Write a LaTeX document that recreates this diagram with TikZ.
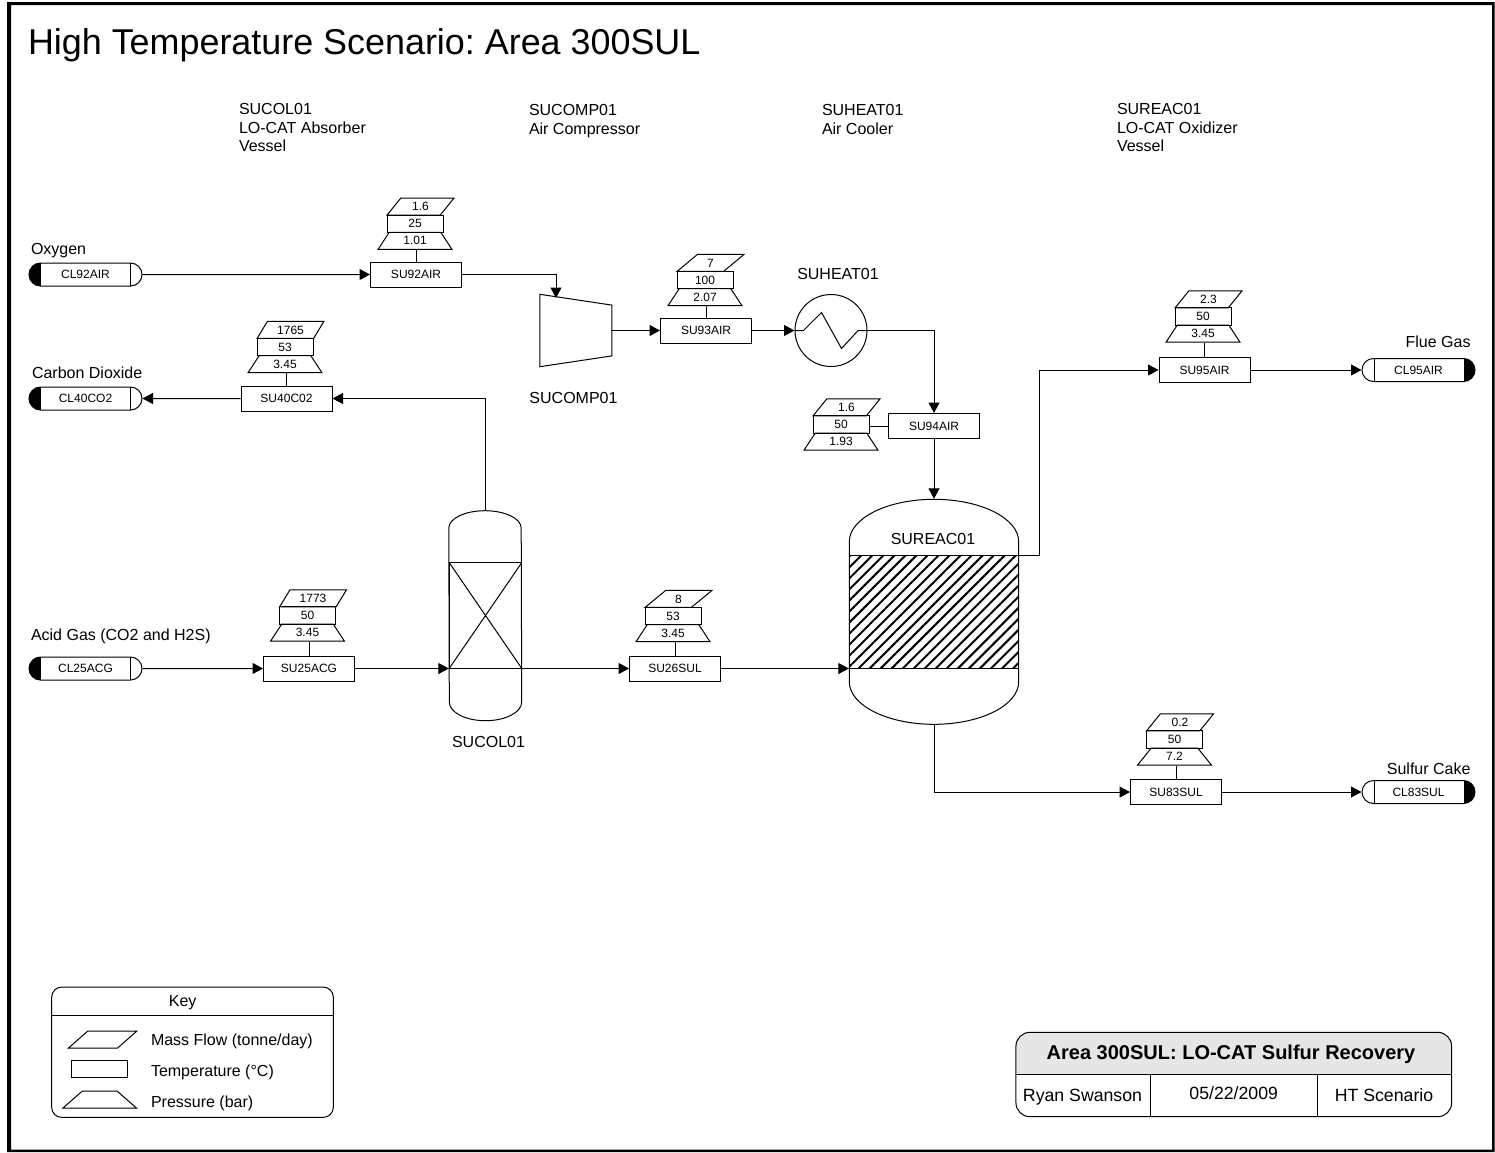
\documentclass[tikz,border=0pt]{standalone}
\usepackage{xcolor}
\usepackage{fontspec}
\setmainfont{Liberation Sans}
\usetikzlibrary{arrows.meta,patterns.meta,shapes.geometric,shapes.misc}
\definecolor{KeyGray}{HTML}{E6E6E6}
\frenchspacing
\newcommand{\SmallFont}{\fontsize{12}{14}\selectfont}
\newcommand{\LabelFont}{\fontsize{16}{18.5}\selectfont}
\newcommand{\FlowTag}[5]{%
    \node (#1Temp) [tempbox] at (#2) {#4};
    \node (#1Flow) [above of=#1Temp, node distance=17.1pt, xshift=5.5pt, flowbox] {#3};
    \node (#1Press) [below of=#1Temp, node distance=17.1pt, pressbox] {#5};
}

\begin{document}
\begin{tikzpicture}[x=1pt, y=-1pt, line width=1pt, >={Triangle[length=10.5pt,width=11pt]},
        streambox/.style={draw, font=\SmallFont, minimum width=91pt, minimum height=25pt, inner sep=0pt},
        tempbox/.style={draw, font=\SmallFont, minimum width=56pt, minimum height=17.2pt, inner sep=0pt},
        flowbox/.style={draw, font=\SmallFont, trapezium, trapezium stretches=true, trapezium left angle=57, trapezium right angle=123, minimum width=67pt, minimum height=17pt, inner sep=0.5pt},
        pressbox/.style={draw, font=\SmallFont, trapezium, trapezium stretches=true, trapezium left angle=61, trapezium right angle=61, minimum width=74pt, minimum height=17pt, inner sep=0.5pt},
        terminal/.style={draw, rounded rectangle, font=\SmallFont, minimum width=113pt, minimum height=23pt, inner sep=0pt},
        termleft/.style={terminal, path picture={
                \fill (path picture bounding box.south west) rectangle ++(11.5pt,23pt);
                \draw ([xshift=-12pt]path picture bounding box.south east) -- ([xshift=-12pt]path picture bounding box.north east);}},
        termright/.style={terminal, path picture={
                \fill (path picture bounding box.south east) rectangle ++(-11.5pt,23pt);
                \draw ([xshift=12pt]path picture bounding box.south west) -- ([xshift=12pt]path picture bounding box.north west);}},
        label/.style={font=\LabelFont, inner sep=0pt},
        header/.style={label, anchor=north west, align=left},
        shell/.style={inner sep=0pt}]
        \useasboundingbox (0,0) rectangle (1495,1152);
        \fill [even odd rule] (7,2) rectangle (1494.5,1152) (11,5) rectangle (1492,1149.5);

        \node (Title) [font=\fontsize{35.9}{40}\selectfont, anchor=west, inner sep=0pt] at (27.5,45) {High Temperature Scenario: Area 300SUL};
        \node (ColHeader) [header] at (238.5,103) {SUCOL01\\LO-CAT Absorber\\Vessel};
        \node (CompHeader) [header] at (528.5,104) {SUCOMP01\\Air Compressor};
        \node (HeatHeader) [header] at (821.5,104) {SUHEAT01\\Air Cooler};
        \node (ReacHeader) [header] at (1116.5,103) {SUREAC01\\LO-CAT Oxidizer\\Vessel};

        % feeds and products
        \node (CL92AIR) [termleft] at (85.5,274.5) {CL92AIR};
        \node (CL40CO2) [termleft] at (85.5,398.5) {CL40CO2};
        \node (CL25ACG) [termleft] at (85.5,668.5) {CL25ACG};
        \node (CL95AIR) [termright] at (1418.5,370) {CL95AIR};
        \node (CL83SUL) [termright] at (1418.5,792) {CL83SUL};
        \node (OxygenLabel) [label, anchor=west] at (30.5,251) {Oxygen};
        \node (CarbonLabel) [label, anchor=west] at (31.5,373) {Carbon Dioxide};
        \node (AcidLabel) [label, anchor=west] at (30.5,636) {Acid Gas (CO2 and H2S)};
        \node (FlueLabel) [label, anchor=east] at (1471,342) {Flue Gas};
        \node (SulfurLabel) [label, anchor=east] at (1471,769) {Sulfur Cake};

        % stream boxes
        \node (SU92AIR) [streambox] at (416,274.5) {SU92AIR};
        \node (SU40C02) [streambox] at (286.5,398.5) {SU40C02};
        \node (SU25ACG) [streambox] at (309,668.5) {SU25ACG};
        \node (SU26SUL) [streambox] at (675,668.5) {SU26SUL};
        \node (SU93AIR) [streambox] at (706,330.5) {SU93AIR};
        \node (SU94AIR) [streambox] at (934,426) {SU94AIR};
        \node (SU95AIR) [streambox] at (1204.5,370) {SU95AIR};
        \node (SU83SUL) [streambox] at (1176,792) {SU83SUL};
        \FlowTag{SU92AIR}{415,223.7}{1.6}{25}{1.01}
        \FlowTag{SU40C02}{285,347}{1765}{53}{3.45}
        \FlowTag{SU25ACG}{307.5,615.5}{1773}{50}{3.45}
        \FlowTag{SU26SUL}{673,616}{8}{53}{3.45}
        \FlowTag{SU93AIR}{705,280}{7}{100}{2.07}
        \FlowTag{SU94AIR}{841,424.5}{1.6}{50}{1.93}
        \FlowTag{SU95AIR}{1203,316.5}{2.3}{50}{3.45}
        \FlowTag{SU83SUL}{1174.5,739.5}{0.2}{50}{7.2}
        \draw (SU92AIR.north) -- (SU92AIR.north |- SU92AIRPress.south);
        \draw (SU40C02.north) -- (SU40C02.north |- SU40C02Press.south);
        \draw (SU25ACG.north) -- (SU25ACG.north |- SU25ACGPress.south);
        \draw (SU26SUL.north) -- (SU26SUL.north |- SU26SULPress.south);
        \draw (SU93AIR.north) -- (SU93AIR.north |- SU93AIRPress.south);
        \draw (SU94AIR.west) -- (SU94AIR.west -| SU94AIRTemp.east);
        \draw (SU95AIR.north) -- (SU95AIR.north |- SU95AIRPress.south);
        \draw (SU83SUL.north) -- (SU83SUL.north |- SU83SULPress.south);

        % compressor
        \node (SUCOMP01) [draw, trapezium, trapezium stretches=true, shape border rotate=270, trapezium angle=78, minimum width=72.4pt, minimum height=72pt, inner sep=0.5pt] at (575.8,330.5) {};
        \coordinate (CompIn) at (556,298);
        \node (CompLabel) [label] at (573.5,398) {SUCOMP01};

        % air cooler
        \node (SUHEAT01) [draw, circle, minimum size=72pt, inner sep=0pt] at (831,330.5) {};
        \draw (SUHEAT01.west) -- ++(9,0) -- ++(18,-18) -- ++(20,36) -- ++(16.6,-18) -- (SUHEAT01.east);
        \node (HeatLabel) [label] at (838,274) {SUHEAT01};

        % absorber
        \node (SUCOL01) [shell, minimum width=72.4pt, minimum height=210pt] at (485.5,615.7) {};
        \draw (SUCOL01.west |- 0,528) arc (180:360:36.2 and 17.3) -- (521.7,702) arc (0:180:36.2 and 18.7) -- cycle;
        \draw (449.3,562.7) rectangle (521.7,668.3);
        \draw (449.3,562.7) -- (521.7,668.3) (521.7,562.7) -- (449.3,668.3);
        \node (ColLabel) [label] at (488.5,742) {SUCOL01};

        % oxidizer
        \node (SUREAC01) [shell, minimum width=169.4pt, minimum height=225pt] at (934,611.8) {};
        \coordinate (ReacOut) at (1018.7,555.7);
        \draw (849.3,541.7) arc (180:360:84.7 and 42.4) -- (1018.7,681.7) arc (0:180:84.7 and 42.6) -- cycle;
        \draw [pattern={Lines[angle=45,distance=7.8pt,line width=2pt]}] (849.3,555.7) rectangle (1018.7,668.7);
        \node (ReacLabel) [label] at (933,538.5) {SUREAC01};

        % flows
        \draw [->] (CL92AIR) -- (SU92AIR);
        \draw [->] (SU92AIR) -| (CompIn);
        \draw [->] (SUCOMP01.east) -- (SU93AIR);
        \draw [->] (SU93AIR) -- (SUHEAT01);
        \draw [->] (SUHEAT01.east) -| (SU94AIR);
        \draw [->] (SU94AIR) -- (SUREAC01.north);
        \draw [->] (ReacOut) -- ++(21,0) |- (SU95AIR);
        \draw [->] (SU95AIR) -- (CL95AIR);
        \draw [->] (SUREAC01.south) |- (SU83SUL);
        \draw [->] (SU83SUL) -- (CL83SUL);
        \draw [->] (CL25ACG) -- (SU25ACG);
        \draw [->] (SU25ACG) -- (SU25ACG -| SUCOL01.west);
        \draw [->] (SU25ACG -| SUCOL01.east) -- (SU26SUL);
        \draw [->] (SU26SUL) -- (SU26SUL -| SUREAC01.west);
        \draw [->] (SUCOL01.north) |- (SU40C02);
        \draw [->] (SU40C02) -- (CL40CO2);

        % key
        \node (KeyBox) [draw, rounded corners=10pt, minimum width=281.6pt, minimum height=130.3pt] at (192.5,1052.2) {};
        \coordinate (KeyRule) at (51.7,1015);
        \draw (KeyRule) -- (KeyRule -| KeyBox.east);
        \node (KeyTitle) [label] at (182.7,1003) {Key};
        \node (KeyFlow) [flowbox, minimum width=68.4pt] at (102.5,1039.7) {};
        \node (KeyTemp) [tempbox, minimum height=17.7pt] at (99.3,1068.9) {};
        \node (KeyPress) [pressbox] at (99.7,1099.7) {};
        \node (KeyFlowText) [label, anchor=west] at (150.5,1041) {Mass Flow (tonne/day)};
        \node (KeyTempText) [label, anchor=west] at (150.5,1072) {Temperature (°C)};
        \node (KeyPressText) [label, anchor=west] at (150.5,1103) {Pressure (bar)};

        % title block
        \fill [KeyGray] (1016,1074.3) [rounded corners=14pt] -- (1016,1032.3) -- (1451.7,1032.3) [sharp corners] -- (1451.7,1074.3) -- cycle;
        \node (TitleBlock) [draw, rounded corners=14pt, minimum width=435.7pt, minimum height=84.4pt] at (1233.8,1074.5) {};
        \coordinate (BlockRule) at (1016,1074.3);
        \coordinate (BlockCutA) at (1150.3,1074.3);
        \coordinate (BlockCutB) at (1317.7,1074.3);
        \draw (BlockRule) -- (BlockRule -| TitleBlock.east);
        \draw (BlockCutA) -- (BlockCutA |- TitleBlock.south);
        \draw (BlockCutB) -- (BlockCutB |- TitleBlock.south);
        \node (BlockTitle) [font=\fontsize{20}{24}\selectfont\bfseries, inner sep=0pt] at (1231,1054) {Area 300SUL: LO-CAT Sulfur Recovery};
        \node (BlockAuthor) [font=\fontsize{17.7}{20}\selectfont, inner sep=0pt] at (1082.5,1097) {Ryan Swanson};
        \node (BlockDate) [font=\fontsize{17.7}{20}\selectfont, inner sep=0pt] at (1233.7,1093) {05/22/2009};
        \node (BlockCase) [font=\fontsize{17.7}{20}\selectfont, inner sep=0pt] at (1384,1095) {HT Scenario};
    \end{tikzpicture}
\end{document}
